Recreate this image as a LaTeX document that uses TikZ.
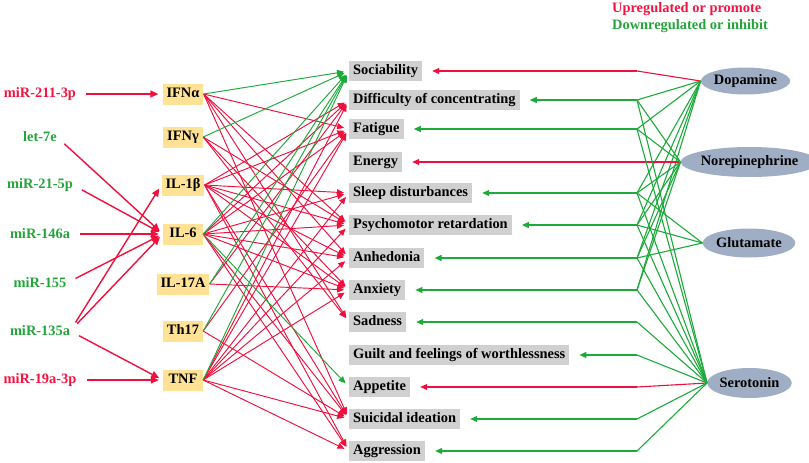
\documentclass[tikz,border=0pt]{standalone}
\usepackage{fontspec}
\setmainfont{Liberation Serif}
\usetikzlibrary{arrows.meta,shapes.geometric}
\definecolor{myred}{RGB}{240,16,62}
\definecolor{mygreen}{RGB}{28,170,58}
\definecolor{txtred}{RGB}{245,20,65}
\definecolor{txtgreen}{RGB}{36,165,58}
\definecolor{cyto}{RGB}{255,226,150}
\definecolor{symp}{RGB}{208,208,208}
\definecolor{neuro}{RGB}{160,174,197}
\begin{document}
\begin{tikzpicture}[x=1pt,y=-1pt,
  font=\bfseries\fontsize{14.4}{16}\selectfont,
  mirlab/.style={inner sep=0pt},
  cytobox/.style={fill=cyto, minimum width=40pt, inner xsep=4pt, inner ysep=4pt, text height=10pt, text depth=3pt},
  sympbox/.style={fill=symp, anchor=west, inner xsep=4pt, inner ysep=3.5pt, text height=10pt, text depth=3pt},
  neurobox/.style={ellipse, fill=neuro, inner sep=0pt},
  mirarr/.style={draw=myred, line width=1.4pt, -{Triangle[length=8pt,width=7pt]}, shorten <=10pt, shorten >=4pt},
  midred/.style={draw=myred, line width=0.95pt, -{Triangle[length=7pt,width=6pt]}, shorten >=5pt},
  midgreen/.style={draw=mygreen, line width=0.95pt, -{Triangle[length=7pt,width=6pt]}, shorten >=5pt},
  ntred/.style={draw=myred, line width=1.1pt},
  ntgreen/.style={draw=mygreen, line width=1.1pt},
  rightred/.style={draw=myred, line width=1.1pt, -{Triangle[length=7pt,width=6pt]}, shorten >=10pt},
  rightgreen/.style={draw=mygreen, line width=1.1pt, -{Triangle[length=7pt,width=6pt]}, shorten >=10pt},
  legend/.style={anchor=west, inner sep=0pt}
]
\useasboundingbox (0,0) rectangle (809,463);

% legend
\node[legend, text=txtred] (lgup) at (612,9) {Upregulated or promote};
\node[legend, text=txtgreen] (lgdn) at (612,26) {Downregulated or inhibit};

% miRNAs
\node[mirlab, text=txtred]   (m211) at (40,94)  {miR-211-3p};
\node[mirlab, text=txtgreen] (let7) at (40,137) {let-7e};
\node[mirlab, text=txtgreen] (m21)  at (40,185) {miR-21-5p};
\node[mirlab, text=txtgreen] (m146) at (40,234) {miR-146a};
\node[mirlab, text=txtgreen] (m155) at (40,283) {miR-155};
\node[mirlab, text=txtgreen] (m135) at (40,331) {miR-135a};
\node[mirlab, text=txtred]   (m19)  at (40,380) {miR-19a-3p};

% cytokines
\node[cytobox] (ifna) at (183,94)  {IFNα};
\node[cytobox] (ifng) at (183,137) {IFNγ};
\node[cytobox] (il1b) at (183,185) {IL-1β};
\node[cytobox] (il6)  at (183,234) {IL-6};
\node[cytobox] (il17) at (183,284) {IL-17A};
\node[cytobox] (th17) at (183,331) {Th17};
\node[cytobox] (tnf)  at (183,380) {TNF};

% symptoms
\node[sympbox] (soc) at (349,71)  {Sociability};
\node[sympbox] (dif) at (349,100) {Difficulty of concentrating};
\node[sympbox] (fat) at (349,129) {Fatigue};
\node[sympbox] (ene) at (349,162) {Energy};
\node[sympbox] (sle) at (349,193) {Sleep disturbances};
\node[sympbox] (psy) at (349,225) {Psychomotor retardation};
\node[sympbox] (anh) at (349,258) {Anhedonia};
\node[sympbox] (anx) at (349,290) {Anxiety};
\node[sympbox] (sad) at (349,322) {Sadness};
\node[sympbox] (gui) at (349,355) {Guilt and feelings of worthlessness};
\node[sympbox] (app) at (349,387) {Appetite};
\node[sympbox] (sui) at (349,419) {Suicidal ideation};
\node[sympbox] (agg) at (349,451) {Aggression};

% neurotransmitters
\node[neurobox, minimum width=74pt, minimum height=27pt] (dop) at (745.5,81) {Dopamine};
\node[neurobox, minimum width=115pt, minimum height=30pt] (nor) at (749.5,162) {Norepinephrine};
\node[neurobox, minimum width=84pt, minimum height=29pt] (glu) at (749,243) {Glutamate};
\node[neurobox, minimum width=78pt, minimum height=30pt] (ser) at (749.5,383) {Serotonin};

% miRNA -> cytokine
\draw[mirarr] (m211.east) -- (ifna.west);
\draw[mirarr] (let7.east) -- (il6.west);
\draw[mirarr] (m21.east)  -- (il6.west);
\draw[mirarr] (m146.east) -- (il6.west);
\draw[mirarr] (m155.east) -- (il6.west);
\draw[mirarr] (m135.east) -- (il1b.west);
\draw[mirarr] (m135.east) -- (il6.west);
\draw[mirarr] (m135.east) -- (tnf.west);
\draw[mirarr] (m19.east)  -- (tnf.west);

% cytokine -> symptom
\foreach \s/\t in {ifna/fat, ifna/psy, ifna/anh, ifna/sad, ifna/sui,
                   ifng/psy, ifng/anx, ifng/sad,
                   il1b/dif, il1b/fat, il1b/sle, il1b/psy, il1b/anh, il1b/anx, il1b/sui, il1b/agg,
                   il6/dif, il6/fat, il6/sle, il6/psy, il6/anh, il6/anx, il6/sui, il6/agg,
                   il17/dif, il17/anx,
                   th17/fat, th17/sui,
                   tnf/dif, tnf/fat, tnf/sle, tnf/psy, tnf/anh, tnf/anx, tnf/sui, tnf/agg}
  \draw[midred] (\s.east) -- (\t.west);
\foreach \s/\t in {ifna/soc, ifng/soc, il6/soc, il17/soc, th17/soc, tnf/soc, il6/app}
  \draw[midgreen] (\s.east) -- (\t.west);

% bend points
\foreach \n/\y in {soc/71, dif/100, fat/129, ene/162, sle/193, psy/225, anh/258, anx/290, sad/322, gui/355, app/387, sui/419, agg/451}
  \coordinate (b\n) at (637,\y);

% neurotransmitter -> bend points
\draw[ntred] (dop.west) -- (bsoc);
\foreach \t in {dif, fat, sle, psy, anh, anx}
  \draw[ntgreen] (dop.west) -- (b\t);
\draw[ntred] (nor.west) -- (bene);
\foreach \t in {dif, fat, sle, psy, anh, anx}
  \draw[ntgreen] (nor.west) -- (b\t);
\foreach \t in {sle, psy, anh}
  \draw[ntgreen] (glu.west) -- (b\t);
\draw[ntred] (ser.west) -- (bapp);
\foreach \t in {dif, fat, sle, psy, anh, anx, sad, gui, sui, agg}
  \draw[ntgreen] (ser.west) -- (b\t);

% bend points -> symptoms
\foreach \t in {soc, ene, app}
  \draw[rightred] (b\t) -- (\t);
\foreach \t in {dif, fat, sle, psy, anh, anx, sad, gui, sui, agg}
  \draw[rightgreen] (b\t) -- (\t);
\end{tikzpicture}
\end{document}
